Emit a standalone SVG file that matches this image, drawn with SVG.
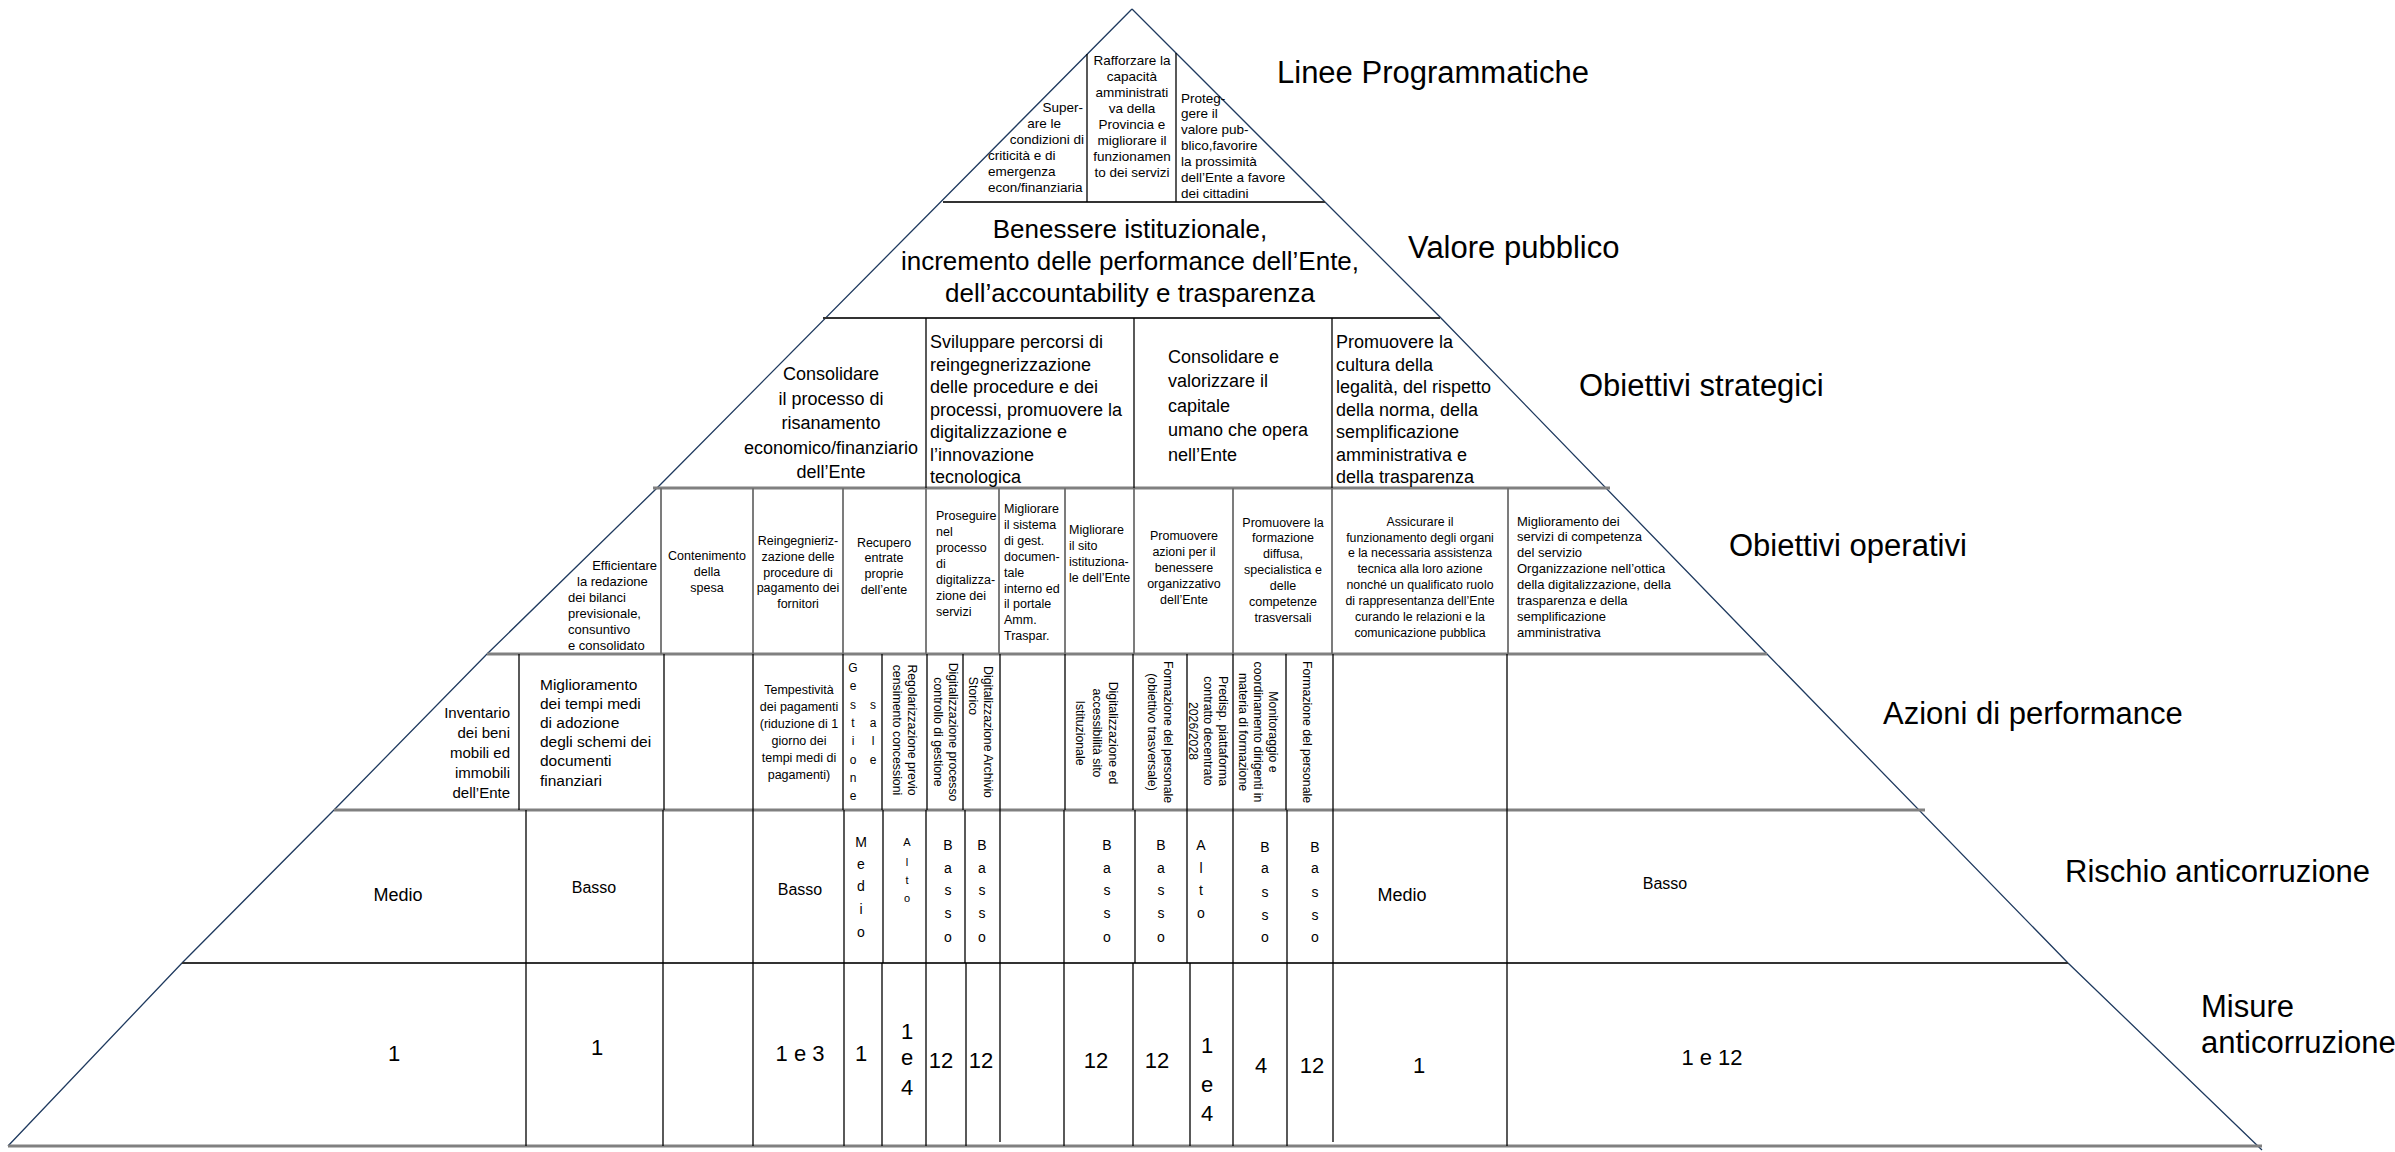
<svg xmlns="http://www.w3.org/2000/svg" width="2395" height="1152" viewBox="0 0 2395 1152">
<style>
text{font-family:"Liberation Sans",Arial,sans-serif;fill:#000}
.lbl{font-size:31px}
.r1{font-size:13px}
.r1b{font-size:13.5px}
.r2{font-size:26px;text-anchor:middle}
.r3{font-size:18px}
.r4{font-size:12.5px}
.r4s{font-size:12.3px}
.r4k{font-size:13px}
.r5{font-size:15px}
.r5b{font-size:15.5px}
.rot{font-size:12.3px;text-anchor:middle}
.vl{font-size:12px;text-anchor:middle}
.rk{font-size:16px;text-anchor:middle}
.rkb{font-size:18px;text-anchor:middle}
.vr{font-size:14px;text-anchor:middle}
.vs{font-size:11px;text-anchor:middle}
.num{font-size:22px;text-anchor:middle}
.m{text-anchor:middle}
.e{text-anchor:end}
.diag{fill:none;stroke:#1f3a5f;stroke-width:1.3}
.hl{stroke:#808080;stroke-width:3}
.hd{stroke:#333;stroke-width:2}
.v{stroke:#000;stroke-width:1.3}
.vg{stroke:#6e6e6e;stroke-width:1.8}
</style>
<rect width="2395" height="1152" fill="#fff"/>
<g id="connectors">
<polyline class="diag" points="1132,9 657,488 487,654 334,810 182,963 8,1146"/>
<polyline class="diag" points="1132,9 1440,317 1767,654 2068,963 2262,1150"/>
<line class="hd" x1="943" y1="202" x2="1325" y2="202"/>
<line class="hd" x1="823" y1="318" x2="1440" y2="318"/>
<line class="hl" x1="653" y1="488" x2="1610" y2="488"/>
<line class="hl" x1="487" y1="654" x2="1767" y2="654"/>
<line class="hl" x1="334" y1="810" x2="1925" y2="810"/>
<line class="hd" x1="182" y1="963" x2="2068" y2="963"/>
<line class="hl" x1="8" y1="1146" x2="2262" y2="1146"/>
<line class="v" x1="1087" y1="54" x2="1087" y2="202"/>
<line class="v" x1="1176" y1="53" x2="1176" y2="202"/>
<line class="v" x1="926" y1="318" x2="926" y2="488"/>
<line class="v" x1="1134" y1="318" x2="1134" y2="488"/>
<line class="v" x1="1332" y1="318" x2="1332" y2="488"/>
<g class="vg">
<line x1="661" y1="488" x2="661" y2="654"/><line x1="753" y1="488" x2="753" y2="654"/><line x1="843" y1="488" x2="843" y2="654"/><line x1="926" y1="488" x2="926" y2="654"/><line x1="999" y1="488" x2="999" y2="654"/><line x1="1065" y1="488" x2="1065" y2="654"/><line x1="1134" y1="488" x2="1134" y2="654"/><line x1="1233" y1="488" x2="1233" y2="654"/><line x1="1332" y1="488" x2="1332" y2="654"/><line x1="1508" y1="488" x2="1508" y2="654"/>
</g>
<g class="v">
<line x1="519" y1="654" x2="519" y2="810"/><line x1="664" y1="654" x2="664" y2="810"/><line x1="753" y1="654" x2="753" y2="810"/><line x1="843" y1="654" x2="843" y2="810"/><line x1="882" y1="654" x2="882" y2="810"/><line x1="927" y1="654" x2="927" y2="810"/><line x1="963" y1="654" x2="963" y2="810"/><line x1="1000" y1="654" x2="1000" y2="810"/><line x1="1065" y1="654" x2="1065" y2="810"/><line x1="1133" y1="654" x2="1133" y2="810"/><line x1="1187" y1="654" x2="1187" y2="810"/><line x1="1233" y1="654" x2="1233" y2="810"/><line x1="1286" y1="654" x2="1286" y2="810"/><line x1="1333" y1="654" x2="1333" y2="810"/><line x1="1507" y1="654" x2="1507" y2="810"/>
<line x1="526" y1="810" x2="526" y2="963"/><line x1="663" y1="810" x2="663" y2="963"/><line x1="753" y1="810" x2="753" y2="963"/><line x1="844" y1="810" x2="844" y2="963"/><line x1="883" y1="810" x2="883" y2="963"/><line x1="926" y1="810" x2="926" y2="963"/><line x1="965" y1="810" x2="965" y2="963"/><line x1="1000" y1="810" x2="1000" y2="963"/><line x1="1064" y1="810" x2="1064" y2="963"/><line x1="1135" y1="810" x2="1135" y2="963"/><line x1="1187" y1="810" x2="1187" y2="963"/><line x1="1233" y1="810" x2="1233" y2="963"/><line x1="1287" y1="810" x2="1287" y2="963"/><line x1="1333" y1="810" x2="1333" y2="963"/><line x1="1507" y1="810" x2="1507" y2="963"/>
<line x1="526" y1="963" x2="526" y2="1146"/><line x1="663" y1="963" x2="663" y2="1146"/><line x1="753" y1="963" x2="753" y2="1146"/><line x1="844" y1="963" x2="844" y2="1146"/><line x1="882" y1="963" x2="882" y2="1146"/><line x1="926" y1="963" x2="926" y2="1146"/><line x1="966" y1="963" x2="966" y2="1146"/><line x1="1000" y1="963" x2="1000" y2="1142"/><line x1="1064" y1="963" x2="1064" y2="1146"/><line x1="1133" y1="963" x2="1133" y2="1146"/><line x1="1190" y1="963" x2="1190" y2="1146"/><line x1="1233" y1="963" x2="1233" y2="1146"/><line x1="1287" y1="963" x2="1287" y2="1146"/><line x1="1333" y1="963" x2="1333" y2="1142"/><line x1="1507" y1="963" x2="1507" y2="1146"/>
</g>
</g>
<g id="labels">
<text class="lbl" x="1277" y="83">Linee Programmatiche</text>
<text class="lbl" x="1408" y="258">Valore pubblico</text>
<text class="lbl" x="1579" y="396">Obiettivi strategici</text>
<text class="lbl" x="1729" y="556">Obiettivi operativi</text>
<text class="lbl" x="1883" y="724">Azioni di performance</text>
<text class="lbl" x="2065" y="882">Rischio anticorruzione</text>
<text class="lbl" x="2201" y="1017">Misure</text>
<text class="lbl" x="2201" y="1053">anticorruzione</text>
</g>
<g id="linea-1">
<text class="r1b e" x="1083" y="112">Super-</text>
<text class="r1b e" x="1061" y="128">are le</text>
<text class="r1b e" x="1084" y="144">condizioni di</text>
<text class="r1b" x="988" y="160">criticità e di</text>
<text class="r1b" x="988" y="176">emergenza</text>
<text class="r1b" x="988" y="192">econ/finanziaria</text>
</g>
<g id="linea-2">
<text class="r1b m" x="1132" y="65">Rafforzare la</text>
<text class="r1b m" x="1132" y="81">capacità</text>
<text class="r1b m" x="1132" y="97">amministrati</text>
<text class="r1b m" x="1132" y="113">va della</text>
<text class="r1b m" x="1132" y="129">Provincia e</text>
<text class="r1b m" x="1132" y="145">migliorare il</text>
<text class="r1b m" x="1132" y="161">funzionamen</text>
<text class="r1b m" x="1132" y="177">to dei servizi</text>
</g>
<g id="linea-3">
<text class="r1b" x="1181" y="103">Proteg-</text>
<text class="r1b" x="1181" y="118">gere il</text>
<text class="r1b" x="1181" y="134">valore pub-</text>
<text class="r1b" x="1181" y="150">blico,favorire</text>
<text class="r1b" x="1181" y="166">la prossimità</text>
<text class="r1b" x="1181" y="182">dell’Ente a favore</text>
<text class="r1b" x="1181" y="198">dei cittadini</text>
</g>
<g id="valore-pubblico">
<text class="r2" x="1130" y="238">Benessere istituzionale,</text>
<text class="r2" x="1130" y="270">incremento delle performance dell’Ente,</text>
<text class="r2" x="1130" y="302">dell’accountability e trasparenza</text>
</g>
<g id="strategico-1">
<text class="r3 m" x="831" y="380">Consolidare</text>
<text class="r3 m" x="831" y="405">il processo di</text>
<text class="r3 m" x="831" y="429">risanamento</text>
<text class="r3 m" x="831" y="454">economico/finanziario</text>
<text class="r3 m" x="831" y="478">dell’Ente</text>
</g>
<g id="strategico-2">
<text class="r3" x="930" y="348">Sviluppare percorsi di</text>
<text class="r3" x="930" y="370.5">reingegnerizzazione</text>
<text class="r3" x="930" y="393">delle procedure e dei</text>
<text class="r3" x="930" y="415.5">processi, promuovere la</text>
<text class="r3" x="930" y="438">digitalizzazione e</text>
<text class="r3" x="930" y="460.5">l’innovazione</text>
<text class="r3" x="930" y="483">tecnologica</text>
</g>
<g id="strategico-3">
<text class="r3" x="1168" y="363">Consolidare e</text>
<text class="r3" x="1168" y="387">valorizzare il</text>
<text class="r3" x="1168" y="412">capitale</text>
<text class="r3" x="1168" y="436">umano che opera</text>
<text class="r3" x="1168" y="461">nell’Ente</text>
</g>
<g id="strategico-4">
<text class="r3" x="1336" y="348">Promuovere la</text>
<text class="r3" x="1336" y="370.5">cultura della</text>
<text class="r3" x="1336" y="393">legalità, del rispetto</text>
<text class="r3" x="1336" y="415.5">della norma, della</text>
<text class="r3" x="1336" y="438">semplificazione</text>
<text class="r3" x="1336" y="460.5">amministrativa e</text>
<text class="r3" x="1336" y="483">della trasparenza</text>
</g>
<g id="operativo-1">
<text class="r1 e" x="657" y="569.5">Efficientare</text>
<text class="r1" x="577" y="585.5">la redazione</text>
<text class="r1" x="568" y="601.5">dei bilanci</text>
<text class="r1" x="568" y="617.5">previsionale,</text>
<text class="r1" x="568" y="633.5">consuntivo</text>
<text class="r1" x="568" y="649.5">e consolidato</text>
</g>
<g id="operativo-2">
<text class="r4 m" x="707" y="559.5">Contenimento</text>
<text class="r4 m" x="707" y="575.5">della</text>
<text class="r4 m" x="707" y="591.5">spesa</text>
</g>
<g id="operativo-3">
<text class="r4 m" x="798" y="544.5">Reingegnieriz-</text>
<text class="r4 m" x="798" y="560.5">zazione delle</text>
<text class="r4 m" x="798" y="576.5">procedure di</text>
<text class="r4 m" x="798" y="591.5">pagamento dei</text>
<text class="r4 m" x="798" y="607.5">fornitori</text>
</g>
<g id="operativo-4">
<text class="r4 m" x="884" y="546.5">Recupero</text>
<text class="r4 m" x="884" y="561.5">entrate</text>
<text class="r4 m" x="884" y="577.5">proprie</text>
<text class="r4 m" x="884" y="593.5">dell’ente</text>
</g>
<g id="operativo-5">
<text class="r4" x="936" y="519.5">Proseguire</text>
<text class="r4" x="936" y="535.5">nel</text>
<text class="r4" x="936" y="551.5">processo</text>
<text class="r4" x="936" y="567.5">di</text>
<text class="r4" x="936" y="583.5">digitalizza-</text>
<text class="r4" x="936" y="599.5">zione dei</text>
<text class="r4" x="936" y="615.5">servizi</text>
</g>
<g id="operativo-6">
<text class="r4" x="1004" y="512.5">Migliorare</text>
<text class="r4" x="1004" y="528.5">il sistema</text>
<text class="r4" x="1004" y="544.5">di gest.</text>
<text class="r4" x="1004" y="560.5">documen-</text>
<text class="r4" x="1004" y="576.5">tale</text>
<text class="r4" x="1004" y="592.5">interno ed</text>
<text class="r4" x="1004" y="607.5">il portale</text>
<text class="r4" x="1004" y="623.5">Amm.</text>
<text class="r4" x="1004" y="639.5">Traspar.</text>
</g>
<g id="operativo-7">
<text class="r4" x="1069" y="533.5">Migliorare</text>
<text class="r4" x="1069" y="549.5">il sito</text>
<text class="r4" x="1069" y="565.5">istituziona-</text>
<text class="r4" x="1069" y="581.5">le dell’Ente</text>
</g>
<g id="operativo-8">
<text class="r4 m" x="1184" y="539.5">Promuovere</text>
<text class="r4 m" x="1184" y="556">azioni per il</text>
<text class="r4 m" x="1184" y="572">benessere</text>
<text class="r4 m" x="1184" y="588">organizzativo</text>
<text class="r4 m" x="1184" y="604">dell’Ente</text>
</g>
<g id="operativo-9">
<text class="r4 m" x="1283" y="526.5">Promuovere la</text>
<text class="r4 m" x="1283" y="541.5">formazione</text>
<text class="r4 m" x="1283" y="557.5">diffusa,</text>
<text class="r4 m" x="1283" y="573.5">specialistica e</text>
<text class="r4 m" x="1283" y="589.5">delle</text>
<text class="r4 m" x="1283" y="605.5">competenze</text>
<text class="r4 m" x="1283" y="621.5">trasversali</text>
</g>
<g id="operativo-10">
<text class="r4s m" x="1420" y="526">Assicurare il</text>
<text class="r4s m" x="1420" y="542">funzionamento degli organi</text>
<text class="r4s m" x="1420" y="557">e la necessaria assistenza</text>
<text class="r4s m" x="1420" y="573">tecnica alla loro azione</text>
<text class="r4s m" x="1420" y="589">nonché un qualificato ruolo</text>
<text class="r4s m" x="1420" y="605">di rappresentanza dell’Ente</text>
<text class="r4s m" x="1420" y="621">curando le relazioni e la</text>
<text class="r4s m" x="1420" y="637">comunicazione pubblica</text>
</g>
<g id="operativo-11">
<text class="r4k" x="1517" y="526">Miglioramento dei</text>
<text class="r4k" x="1517" y="541">servizi di competenza</text>
<text class="r4k" x="1517" y="557">del servizio</text>
<text class="r4k" x="1517" y="573">Organizzazione nell’ottica</text>
<text class="r4k" x="1517" y="589">della digitalizzazione, della</text>
<text class="r4k" x="1517" y="605">trasparenza e della</text>
<text class="r4k" x="1517" y="621">semplificazione</text>
<text class="r4k" x="1517" y="637">amministrativa</text>
</g>
<g id="azione-1">
<text class="r5 e" x="510" y="718">Inventario</text>
<text class="r5 e" x="510" y="738">dei beni</text>
<text class="r5 e" x="510" y="758">mobili ed</text>
<text class="r5 e" x="510" y="778">immobili</text>
<text class="r5 e" x="510" y="798">dell’Ente</text>
</g>
<g id="azione-2">
<text class="r5b" x="540" y="689.5">Miglioramento</text>
<text class="r5b" x="540" y="708.7">dei tempi medi</text>
<text class="r5b" x="540" y="727.9">di adozione</text>
<text class="r5b" x="540" y="747.1">degli schemi dei</text>
<text class="r5b" x="540" y="766.3">documenti</text>
<text class="r5b" x="540" y="785.5">finanziari</text>
</g>
<g id="azione-3">
<text class="r4 m" x="799" y="694">Tempestività</text>
<text class="r4 m" x="799" y="711">dei pagamenti</text>
<text class="r4 m" x="799" y="728">(riduzione di 1</text>
<text class="r4 m" x="799" y="745">giorno dei</text>
<text class="r4 m" x="799" y="762">tempi medi di</text>
<text class="r4 m" x="799" y="779">pagamenti)</text>
</g>
<g id="azione-4">
<text class="vl"><tspan x="853" y="672">G</tspan><tspan x="853" y="690">e</tspan><tspan x="853" y="709">s</tspan><tspan x="853" y="727">t</tspan><tspan x="853" y="745">i</tspan><tspan x="853" y="764">o</tspan><tspan x="853" y="782">n</tspan><tspan x="853" y="800">e</tspan></text>
<text class="vl"><tspan x="873" y="709">s</tspan><tspan x="873" y="727">a</tspan><tspan x="873" y="745">l</tspan><tspan x="873" y="764">e</tspan></text>
</g>
<g id="azione-5"><text class="rot" transform="translate(907.5,730) rotate(90)">Regolarizzazione previo</text><text class="rot" transform="translate(892.5,730) rotate(90)">censimento concessioni</text></g>
<g id="azione-6"><text class="rot" transform="translate(948.5,732) rotate(90)">Digitalizzazione processo</text><text class="rot" transform="translate(933.5,732) rotate(90)">controllo di gestione</text></g>
<g id="azione-7"><text class="rot" transform="translate(983.5,732) rotate(90)">Digitalizzazione Archivio</text><text class="rot" transform="translate(968.5,696) rotate(90)">Storico</text></g>
<g id="azione-8"><text class="rot" transform="translate(1108.5,733) rotate(90)">Digitalizzazione ed</text><text class="rot" transform="translate(1092.5,733) rotate(90)">accessibilità sito</text><text class="rot" transform="translate(1075.5,733) rotate(90)">Istituzionale</text></g>
<g id="azione-9"><text class="rot" transform="translate(1163.5,732) rotate(90)">Formazione del personale</text><text class="rot" transform="translate(1147.5,732) rotate(90)">(obiettivo trasversale)</text></g>
<g id="azione-10"><text class="rot" transform="translate(1218.5,731) rotate(90)">Predisp. piattaforma</text><text class="rot" transform="translate(1203.5,731) rotate(90)">contratto decentrato</text><text class="rot" transform="translate(1188.5,731) rotate(90)">2026/2028</text></g>
<g id="azione-11"><text class="rot" transform="translate(1268.5,732) rotate(90)">Monitoraggio e</text><text class="rot" transform="translate(1253.5,732) rotate(90)">coordinamento dirigenti in</text><text class="rot" transform="translate(1238.5,732) rotate(90)">materia di formazione</text></g>
<g id="azione-12"><text class="rot" transform="translate(1302.5,732) rotate(90)">Formazione del personale</text></g>
<g id="rischio">
<text class="rkb" x="398" y="901">Medio</text>
<text class="rk" x="594" y="893">Basso</text>
<text class="rk" x="800" y="895">Basso</text>
<text class="vr"><tspan x="861" y="847">M</tspan><tspan x="861" y="869">e</tspan><tspan x="861" y="891">d</tspan><tspan x="861" y="914">i</tspan><tspan x="861" y="937">o</tspan></text>
<text class="vs"><tspan x="907" y="846">A</tspan><tspan x="907" y="866">l</tspan><tspan x="907" y="884">t</tspan><tspan x="907" y="902">o</tspan></text>
<text class="vr"><tspan x="948" y="850">B</tspan><tspan x="948" y="873">a</tspan><tspan x="948" y="895">s</tspan><tspan x="948" y="918">s</tspan><tspan x="948" y="942">o</tspan></text>
<text class="vr"><tspan x="982" y="850">B</tspan><tspan x="982" y="873">a</tspan><tspan x="982" y="895">s</tspan><tspan x="982" y="918">s</tspan><tspan x="982" y="942">o</tspan></text>
<text class="vr"><tspan x="1107" y="850">B</tspan><tspan x="1107" y="873">a</tspan><tspan x="1107" y="895">s</tspan><tspan x="1107" y="918">s</tspan><tspan x="1107" y="942">o</tspan></text>
<text class="vr"><tspan x="1161" y="850">B</tspan><tspan x="1161" y="873">a</tspan><tspan x="1161" y="895">s</tspan><tspan x="1161" y="918">s</tspan><tspan x="1161" y="942">o</tspan></text>
<text class="vr"><tspan x="1201" y="850">A</tspan><tspan x="1201" y="873">l</tspan><tspan x="1201" y="895">t</tspan><tspan x="1201" y="918">o</tspan></text>
<text class="vr"><tspan x="1265" y="852">B</tspan><tspan x="1265" y="873">a</tspan><tspan x="1265" y="897">s</tspan><tspan x="1265" y="920">s</tspan><tspan x="1265" y="942">o</tspan></text>
<text class="vr"><tspan x="1315" y="852">B</tspan><tspan x="1315" y="873">a</tspan><tspan x="1315" y="897">s</tspan><tspan x="1315" y="920">s</tspan><tspan x="1315" y="942">o</tspan></text>
<text class="rkb" x="1402" y="901">Medio</text>
<text class="rk" x="1665" y="889">Basso</text>
</g>
<g id="misure">
<text class="num" x="394" y="1061">1</text>
<text class="num" x="597" y="1055">1</text>
<text class="num" x="800" y="1061">1 e 3</text>
<text class="num" x="861" y="1061">1</text>
<text class="num"><tspan x="907" y="1039">1</tspan><tspan x="907" y="1065">e</tspan><tspan x="907" y="1095">4</tspan></text>
<text class="num" x="941" y="1068">12</text>
<text class="num" x="981" y="1068">12</text>
<text class="num" x="1096" y="1068">12</text>
<text class="num" x="1157" y="1068">12</text>
<text class="num"><tspan x="1207" y="1053">1</tspan><tspan x="1207" y="1092">e</tspan><tspan x="1207" y="1121">4</tspan></text>
<text class="num" x="1261" y="1073">4</text>
<text class="num" x="1312" y="1073">12</text>
<text class="num" x="1419" y="1073">1</text>
<text class="num" x="1712" y="1065">1 e 12</text>
</g>
</svg>
